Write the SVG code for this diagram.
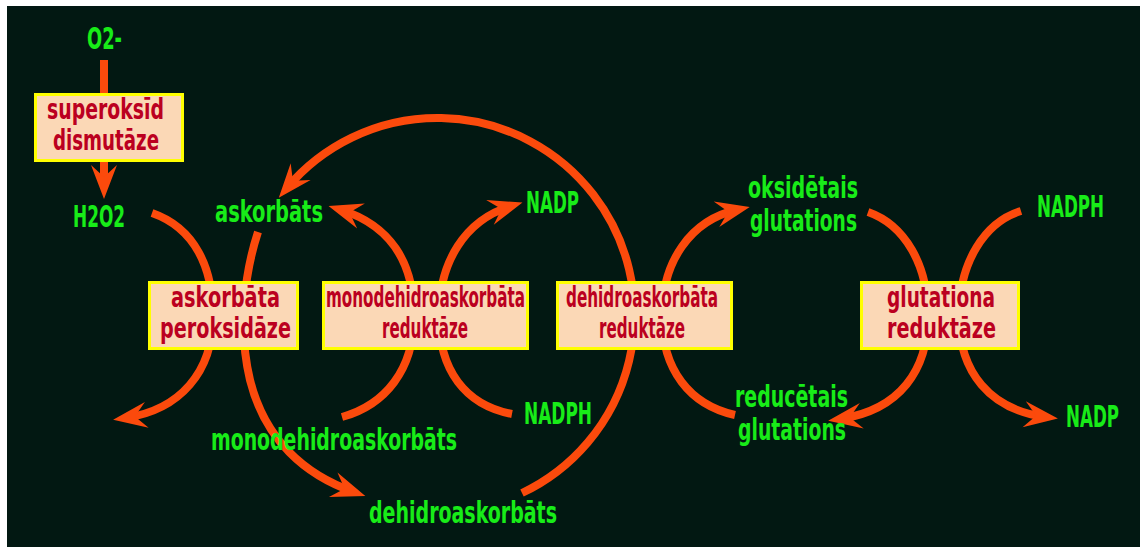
<svg xmlns="http://www.w3.org/2000/svg" width="1140" height="547" viewBox="0 0 1140 547">
  <defs>
    <style>
      .flow { fill: none; stroke: #fb4a0c; stroke-width: 8; stroke-linecap: butt; }
      .enzyme rect { fill: #fbd8b6; stroke: #ffff00; stroke-width: 3; }
      .enzyme text { font-family: "Liberation Sans Narrow", "DejaVu Sans Condensed", "Liberation Sans", sans-serif; font-weight: bold; font-size: 27.5px; fill: #bb0020; }
      .chem text { font-family: "Liberation Sans Narrow", "DejaVu Sans Condensed", "Liberation Sans", sans-serif; font-weight: bold; font-size: 30px; fill: #18ec18; }
    </style>
    <marker id="head" markerUnits="userSpaceOnUse" markerWidth="40" markerHeight="32" viewBox="-26 -16 40 32" refX="0" refY="0" orient="auto">
      <path d="M12,0 L-22,-13 L-10,0 L-22,13 Z" fill="#fb4a0c"/>
    </marker>
  </defs>

  <rect x="7" y="6" width="1133" height="541" fill="#021812"/>

  <!-- reaction arrows, drawn beneath the enzyme boxes -->
  <g id="connectors">
    <path class="flow" d="M104,60 L104,187" marker-end="url(#head)"/>
    <!-- ascorbate peroxidase -->
    <path class="flow" d="M152,213 C195,228 213,268 213,316 C213,372 180,410 125,418" marker-end="url(#head)"/>
    <path class="flow" d="M258,232 C244,275 238,330 250,380 C265,440 305,475 354,492" marker-end="url(#head)"/>
    <!-- monodehydroascorbate reductase -->
    <path class="flow" d="M342,417 C385,405 414,370 414,316 C414,262 390,225 340,209.5" marker-end="url(#head)"/>
    <path class="flow" d="M512,414 C465,405 439,370 439,316 C439,262 465,220 511,206" marker-end="url(#head)"/>
    <!-- dehydroascorbate reductase -->
    <path class="flow" d="M522,493 A197,197 0 1 0 286.5,188.5" marker-end="url(#head)"/>
    <path class="flow" d="M735,415 C690,405 662,370 662,316 C662,262 690,220 738,209.5" marker-end="url(#head)"/>
    <!-- glutathione reductase -->
    <path class="flow" d="M868,212 C905,225 928,265 928,316 C928,370 900,410 840,419" marker-end="url(#head)"/>
    <path class="flow" d="M1021,211 C985,222 959,262 959,316 C959,372 990,410 1046,417" marker-end="url(#head)"/>
  </g>

  <!-- enzymes -->
  <g id="sod" class="enzyme">
    <rect x="35.5" y="94.5" width="147" height="66"/>
    <text x="47" y="119" textLength="117" lengthAdjust="spacingAndGlyphs">superoksīd</text>
    <text x="53" y="150" textLength="106" lengthAdjust="spacingAndGlyphs">dismutāze</text>
  </g>
  <g id="apx" class="enzyme">
    <rect x="149.5" y="282.5" width="148" height="66"/>
    <text x="171" y="307" textLength="109" lengthAdjust="spacingAndGlyphs">askorbāta</text>
    <text x="160" y="338" textLength="131" lengthAdjust="spacingAndGlyphs">peroksidāze</text>
  </g>
  <g id="mdhar" class="enzyme">
    <rect x="323.5" y="282.5" width="204" height="66"/>
    <text x="326" y="307" textLength="199" lengthAdjust="spacingAndGlyphs">monodehidroaskorbāta</text>
    <text x="382" y="338" textLength="86" lengthAdjust="spacingAndGlyphs">reduktāze</text>
  </g>
  <g id="dhar" class="enzyme">
    <rect x="557.5" y="282.5" width="174" height="66"/>
    <text x="566" y="307" textLength="152" lengthAdjust="spacingAndGlyphs">dehidroaskorbāta</text>
    <text x="599" y="338" textLength="86" lengthAdjust="spacingAndGlyphs">reduktāze</text>
  </g>
  <g id="gr" class="enzyme">
    <rect x="861.5" y="282.5" width="157" height="66"/>
    <text x="887" y="307" textLength="108" lengthAdjust="spacingAndGlyphs">glutationa</text>
    <text x="887" y="338" textLength="109" lengthAdjust="spacingAndGlyphs">reduktāze</text>
  </g>

  <!-- metabolites -->
  <g id="superoxide" class="chem"><text x="87" y="49" textLength="35" lengthAdjust="spacingAndGlyphs">O2-</text></g>
  <g id="h2o2" class="chem"><text x="73" y="227" textLength="52" lengthAdjust="spacingAndGlyphs">H2O2</text></g>
  <g id="ascorbate" class="chem"><text x="215" y="222" textLength="108" lengthAdjust="spacingAndGlyphs">askorbāts</text></g>
  <g id="nadp-1" class="chem"><text x="526" y="213" textLength="53" lengthAdjust="spacingAndGlyphs">NADP</text></g>
  <g id="nadph-1" class="chem"><text x="524" y="424" textLength="68" lengthAdjust="spacingAndGlyphs">NADPH</text></g>
  <g id="mdha" class="chem"><text x="211" y="450" textLength="246" lengthAdjust="spacingAndGlyphs">monodehidroaskorbāts</text></g>
  <g id="dha" class="chem"><text x="369" y="523" textLength="188" lengthAdjust="spacingAndGlyphs">dehidroaskorbāts</text></g>
  <g id="gssg" class="chem">
    <text x="748" y="198" textLength="110" lengthAdjust="spacingAndGlyphs">oksidētais</text>
    <text x="750" y="231" textLength="107" lengthAdjust="spacingAndGlyphs">glutations</text>
  </g>
  <g id="gsh" class="chem">
    <text x="735" y="407" textLength="113" lengthAdjust="spacingAndGlyphs">reducētais</text>
    <text x="738" y="440" textLength="108" lengthAdjust="spacingAndGlyphs">glutations</text>
  </g>
  <g id="nadph-2" class="chem"><text x="1037" y="217" textLength="67" lengthAdjust="spacingAndGlyphs">NADPH</text></g>
  <g id="nadp-2" class="chem"><text x="1066" y="427" textLength="53" lengthAdjust="spacingAndGlyphs">NADP</text></g>
</svg>
